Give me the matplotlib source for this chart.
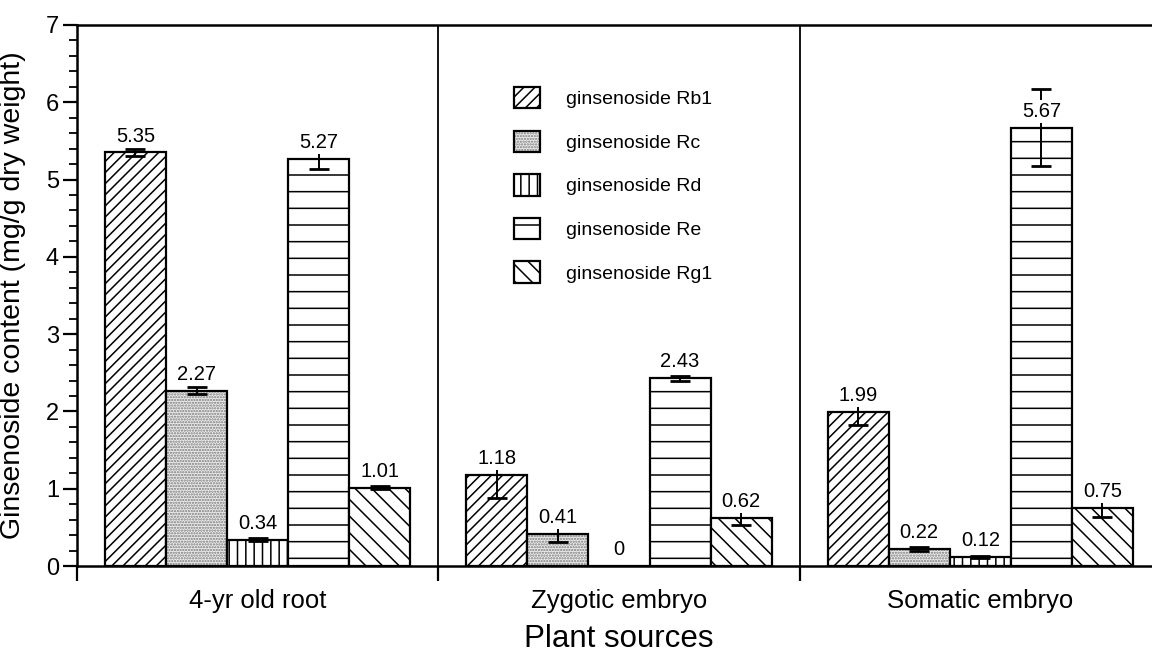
import numpy as np
import matplotlib
matplotlib.use("Agg")
import matplotlib.pyplot as plt
from matplotlib.legend_handler import HandlerTuple

# dados
fontes = ["4-yr old root", "Zygotic embryo", "Somatic embryo"]
ginsenosideos = ["ginsenoside Rb1", "ginsenoside Rc", "ginsenoside Rd",
                 "ginsenoside Re", "ginsenoside Rg1"]
rb1 = [5.35, 1.18, 1.99]
rc = [2.27, 0.41, 0.22]
rd = [0.34, 0.0, 0.12]
re = [5.27, 2.43, 5.67]
rg1 = [1.01, 0.62, 0.75]
erro_rb1 = [0.04, 0.30, 0.17]
erro_rc = [0.05, 0.10, 0.02]
erro_rd = [0.02, 0.0, 0.01]
erro_re = [0.13, 0.03, 0.50]
erro_rg1 = [0.02, 0.09, 0.11]

valores = [rb1, rc, rd, re, rg1]
erros = [erro_rb1, erro_rc, erro_rd, erro_re, erro_rg1]
hachuras = ["///", "......", "||", "-", "\\\\"]

plt.rcParams['font.family'] = ['Liberation Sans', 'DejaVu Sans']
plt.rcParams['hatch.linewidth'] = 1.1

fig = plt.figure(figsize=(11.52, 6.57), dpi=100)
ax = fig.add_axes([0.0668, 0.1385, 0.941, 0.8235])

x = np.arange(len(fontes))
largura = 0.169
alcas = []
for i in range(len(ginsenosideos)):
    pos = x + (i - 2) * largura
    if i == 1:
        # pontilhado cinza: preenchimento + contorno separados
        fundo = ax.bar(pos, valores[i], largura, color="#ececec", edgecolor="#7a7a7a",
                       hatch=hachuras[i], linewidth=0, zorder=2)
        borda = ax.bar(pos, valores[i], largura, fill=False, edgecolor="black",
                       linewidth=1.6, zorder=2)
        alcas.append((fundo, borda))
    else:
        b = ax.bar(pos, valores[i], largura, color="white", edgecolor="black",
                   hatch=hachuras[i], linewidth=1.6, zorder=2)
        alcas.append(b)
    for j in range(len(fontes)):
        v = valores[i][j]
        if v > 0:
            ax.errorbar(pos[j], v, yerr=erros[i][j], color="black", capsize=7,
                        elinewidth=1.4, capthick=2, zorder=3)
        ax.annotate("%g" % v if v == 0 else "%.2f" % v, (pos[j], v),
                    xytext=(0, 5), textcoords="offset points", ha="center",
                    va="bottom", fontsize=14.5, zorder=4,
                    bbox=dict(facecolor="white", edgecolor="none", pad=1.5))

# linhas separando as fontes
for s in [0.5, 1.5]:
    ax.axvline(s, color="black", linewidth=1.3, zorder=1)

ax.set_xlim(-0.5, 2.5)
ax.set_ylim(0, 7)
ax.set_yticks(range(8))
ax.set_yticks(np.arange(0, 7.01, 0.2), minor=True)
ax.tick_params(axis="y", which="major", labelsize=17, length=10, width=1.6, pad=3)
ax.tick_params(axis="y", which="minor", length=6, width=1.3)
ax.set_xticks([-0.5, 0.5, 1.5, 2.5])
ax.set_xticklabels([])
ax.tick_params(axis="x", which="major", length=11, width=1.6)

for j in range(len(fontes)):
    ax.text(x[j], -0.45, fontes[j], ha="center", va="center", fontsize=18.5)
ax.text(1, -0.95, "Plant sources", ha="center", va="center", fontsize=22.5)

ax.set_ylabel("Ginsenoside content (mg/g dry weight)", fontsize=20.5)
ax.yaxis.set_label_coords(-0.047, 0.5)

ax.spines["right"].set_visible(False)
for lado in ["left", "bottom", "top"]:
    ax.spines[lado].set_linewidth(1.8)

fig.legend(alcas, ginsenosideos, loc="upper left", bbox_to_anchor=(0.438, 0.882),
           frameon=False, fontsize=14, handlelength=1.3, handleheight=1.3,
           labelspacing=1.15, handletextpad=1.35, borderpad=0,
           handler_map={tuple: HandlerTuple(ndivide=1, pad=0)})

fig.savefig("out.png", dpi=100)
